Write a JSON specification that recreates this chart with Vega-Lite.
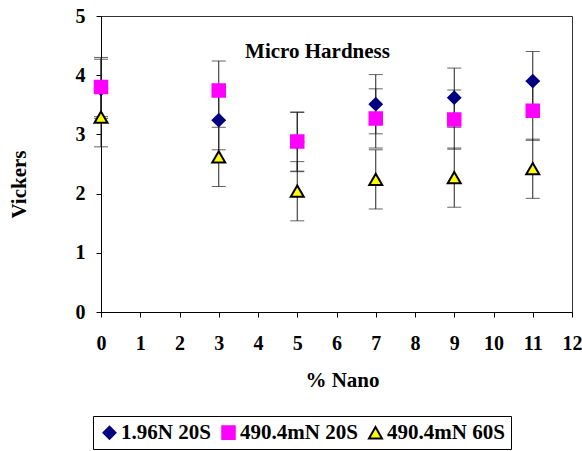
{
  "$schema": "https://vega.github.io/schema/vega-lite/v6.json",
  "width": 471,
  "height": 296,
  "autosize": "none",
  "padding": {"left": 101, "top": 16, "right": 10, "bottom": 139},
  "background": "white",
  "title": {
    "text": "Micro Hardness",
    "frame": "group",
    "anchor": "middle",
    "offset": -73,
    "dx": -19,
    "baseline": "alphabetic",
    "font": "Times New Roman, Liberation Serif, serif",
    "fontSize": 21,
    "fontWeight": "bold",
    "color": "black"
  },
  "config": {
    "font": "Times New Roman, Liberation Serif, serif",
    "view": {"stroke": "#333", "strokeWidth": 1},
    "axis": {
      "labelFont": "Times New Roman, Liberation Serif, serif",
      "labelFontSize": 20,
      "labelFontWeight": "bold",
      "labelColor": "black",
      "titleFont": "Times New Roman, Liberation Serif, serif",
      "titleFontSize": 21,
      "titleFontWeight": "bold",
      "titleColor": "black",
      "domainColor": "black",
      "tickColor": "black",
      "tickSize": 5,
      "grid": false,
      "labelFlush": false
    },
    "legend": {
      "orient": "none",
      "legendX": -8,
      "legendY": 400,
      "direction": "horizontal",
      "padding": 6,
      "strokeColor": "black",
      "fillColor": "white",
      "labelFont": "Times New Roman, Liberation Serif, serif",
      "labelFontSize": 21,
      "labelFontWeight": "bold",
      "labelColor": "black",
      "labelOffset": 1,
      "columnPadding": 7,
      "symbolStrokeWidth": 2,
      "symbolOpacity": 1,
      "title": null
    }
  },
  "data": {
    "values": [
      {"series": "1.96N 20S", "nano": 0, "v": 3.77, "lo": 3.27, "hi": 4.27},
      {"series": "1.96N 20S", "nano": 3, "v": 3.24, "lo": 2.74, "hi": 3.74},
      {"series": "1.96N 20S", "nano": 5, "v": 2.87, "lo": 2.37, "hi": 3.37},
      {"series": "1.96N 20S", "nano": 7, "v": 3.51, "lo": 3.01, "hi": 4.01},
      {"series": "1.96N 20S", "nano": 9, "v": 3.62, "lo": 3.12, "hi": 4.12},
      {"series": "1.96N 20S", "nano": 11, "v": 3.9, "lo": 3.4, "hi": 4.4},
      {"series": "490.4mN 20S", "nano": 0, "v": 3.8, "lo": 3.3, "hi": 4.3},
      {"series": "490.4mN 20S", "nano": 3, "v": 3.74, "lo": 3.24, "hi": 4.24},
      {"series": "490.4mN 20S", "nano": 5, "v": 2.88, "lo": 2.38, "hi": 3.38},
      {"series": "490.4mN 20S", "nano": 7, "v": 3.27, "lo": 2.77, "hi": 3.77},
      {"series": "490.4mN 20S", "nano": 9, "v": 3.25, "lo": 2.75, "hi": 3.75},
      {"series": "490.4mN 20S", "nano": 11, "v": 3.4, "lo": 2.9, "hi": 3.9},
      {"series": "490.4mN 60S", "nano": 0, "v": 3.29, "lo": 2.79, "hi": 3.79},
      {"series": "490.4mN 60S", "nano": 3, "v": 2.62, "lo": 2.12, "hi": 3.12},
      {"series": "490.4mN 60S", "nano": 5, "v": 2.04, "lo": 1.54, "hi": 2.54},
      {"series": "490.4mN 60S", "nano": 7, "v": 2.24, "lo": 1.74, "hi": 2.74},
      {"series": "490.4mN 60S", "nano": 9, "v": 2.27, "lo": 1.77, "hi": 2.77},
      {"series": "490.4mN 60S", "nano": 11, "v": 2.42, "lo": 1.92, "hi": 2.92}
    ]
  },
  "encoding": {
    "x": {
      "field": "nano",
      "type": "quantitative",
      "title": "% Nano",
      "scale": {"domain": [0, 12], "nice": false, "zero": false},
      "axis": {
        "values": [0, 1, 2, 3, 4, 5, 6, 7, 8, 9, 10, 11, 12],
        "format": "d",
        "labelPadding": 16,
        "titleX": 241,
        "titleY": 68,
        "titleBaseline": "middle",
        "titleAlign": "center"
      }
    }
  },
  "layer": [
    {
      "mark": {"type": "rule", "color": "#222", "strokeWidth": 1},
      "encoding": {
        "y": {
          "field": "lo",
          "type": "quantitative",
          "title": "Vickers",
          "scale": {"domain": [0, 5], "nice": false},
          "axis": {
            "values": [0, 1, 2, 3, 4, 5],
            "format": "d",
            "labelPadding": 11,
            "titleX": -82,
            "titleY": 168,
            "titleAngle": -90,
            "titleBaseline": "middle",
            "titleAlign": "center"
          }
        },
        "y2": {"field": "hi"}
      }
    },
    {
      "mark": {"type": "tick", "orient": "horizontal", "color": "#222", "size": 14, "thickness": 1},
      "encoding": {
        "y": {"field": "lo", "type": "quantitative", "title": "Vickers"}
      }
    },
    {
      "mark": {"type": "tick", "orient": "horizontal", "color": "#222", "size": 14, "thickness": 1},
      "encoding": {
        "y": {"field": "hi", "type": "quantitative", "title": "Vickers"}
      }
    },
    {
      "mark": {"type": "point", "filled": true, "opacity": 1, "strokeWidth": 2, "strokeOpacity": 1},
      "encoding": {
        "y": {"field": "v", "type": "quantitative", "title": "Vickers"},
        "shape": {
          "field": "series",
          "type": "nominal",
          "scale": {"domain": ["1.96N 20S", "490.4mN 20S", "490.4mN 60S"], "range": ["diamond", "square", "triangle-up"]}
        },
        "fill": {
          "field": "series",
          "type": "nominal",
          "scale": {"domain": ["1.96N 20S", "490.4mN 20S", "490.4mN 60S"], "range": ["#000080", "#FF00FF", "#FFFF00"]}
        },
        "stroke": {
          "field": "series",
          "type": "nominal",
          "scale": {"domain": ["1.96N 20S", "490.4mN 20S", "490.4mN 60S"], "range": ["#000080", "#FF00FF", "#000000"]}
        },
        "size": {
          "field": "series",
          "type": "nominal",
          "scale": {"domain": ["1.96N 20S", "490.4mN 20S", "490.4mN 60S"], "range": [144, 169, 196]}
        }
      }
    }
  ]
}
